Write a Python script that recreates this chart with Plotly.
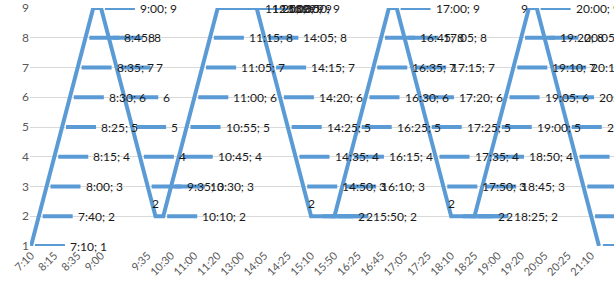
import plotly.graph_objects as go

# stop number reached at each successive reading
values = [1, 2, 3, 4, 5, 6, 7, 8, 9,
          9, 8, 7, 6, 5, 4, 3, 2,
          2, 3, 4, 5, 6, 7, 8, 9,
          9, 9, 9, 9, 9, 8, 7, 6, 5, 4, 3, 2,
          2, 2, 2, 3, 4, 5, 6, 7, 8, 9,
          9, 8, 7, 6, 5, 4, 3, 2,
          2, 2, 2, 3, 4, 5, 6, 7, 8, 9,
          9, 8, 7, 6, 5, 4, 3, 2, 1]

# time of each reading ("" = no time shown)
times = ["7:10", "7:40", "8:00", "8:15", "8:25", "8:30", "8:35", "8:45", "",
         "9:00", "", "", "", "", "", "9:35", "",
         "10:10", "10:30", "10:45", "10:55", "11:00", "11:05", "11:15", "11:20",
         "11:25", "12:00", "13:00", "13:30", "13:50", "14:05", "14:15", "14:20", "14:25", "14:35", "14:50", "15:10",
         "", "", "15:50", "16:10", "16:15", "16:25", "16:30", "16:35", "16:45", "",
         "17:00", "17:05", "17:15", "17:20", "17:25", "17:35", "17:50", "18:10",
         "", "", "18:25", "18:45", "18:50", "19:00", "19:05", "19:10", "19:20", "",
         "20:00", "20:05", "20:10", "20:15", "20:25", "20:35", "20:50", "21:10", "21:30"]

# axis labels: every third reading
tick_step = 3

# label placement for the corner readings (others: right, after a bar)
label_side = {8: "none", 16: "top", 24: "none", 36: "top", 46: "none", 54: "top", 64: "left"}

BLUE = "#5B9BD5"
FONT = "Lato"

idx = list(range(len(values)))

fig = go.Figure()
fig.add_trace(go.Scatter(x=idx, y=values, mode="lines",
                         line=dict(color=BLUE, width=4), cliponaxis=False,
                         hoverinfo="skip"))

gap, blen = 0.5, 3.86
bx, by = [], []
annotations = []
tf = dict(family=FONT, size=12, color="#1a1a1a")
for i, (v, t) in enumerate(zip(values, times)):
    side = label_side.get(i, "right")
    if side == "right":
        bx += [i + gap, i + gap + blen, None]
        by += [v, v, None]
        annotations.append(dict(x=i, y=v, text=f"{t}; {v}" if t else f"{v}",
                                xanchor="left", yanchor="middle", xshift=37,
                                showarrow=False, font=tf))
    elif side == "top":
        annotations.append(dict(x=i, y=v, text=f"{v}", xanchor="center",
                                yanchor="middle", yshift=13, showarrow=False, font=tf))
    elif side == "left":
        annotations.append(dict(x=i, y=v, text=f"{v}", xanchor="right",
                                yanchor="middle", xshift=1, showarrow=False, font=tf))

fig.add_trace(go.Scatter(x=bx, y=by, mode="lines", line=dict(color=BLUE, width=4),
                         cliponaxis=False, hoverinfo="skip"))

tickvals = idx[::tick_step]
ticktext = times[::tick_step]

fig.update_layout(
    width=614, height=289,
    margin=dict(l=30, r=0, t=6, b=43),
    paper_bgcolor="white", plot_bgcolor="white",
    showlegend=False,
    font=dict(family=FONT, color="#595959"),
    annotations=annotations,
    xaxis=dict(range=[-0.13, 74.93], tickvals=tickvals, ticktext=ticktext,
               tickangle=-45, tickfont=dict(size=11, color="#595959"),
               showgrid=False, zeroline=False, showline=False, ticks=""),
    yaxis=dict(range=[1, 9], tickvals=list(range(1, 10)), showgrid=True,
               gridcolor="#d9d9d9", gridwidth=1, zeroline=False, showline=False,
               ticklabeloverflow="allow",
               tickfont=dict(size=12, color="#595959"), ticks=""),
)

fig.write_html("out.html")
